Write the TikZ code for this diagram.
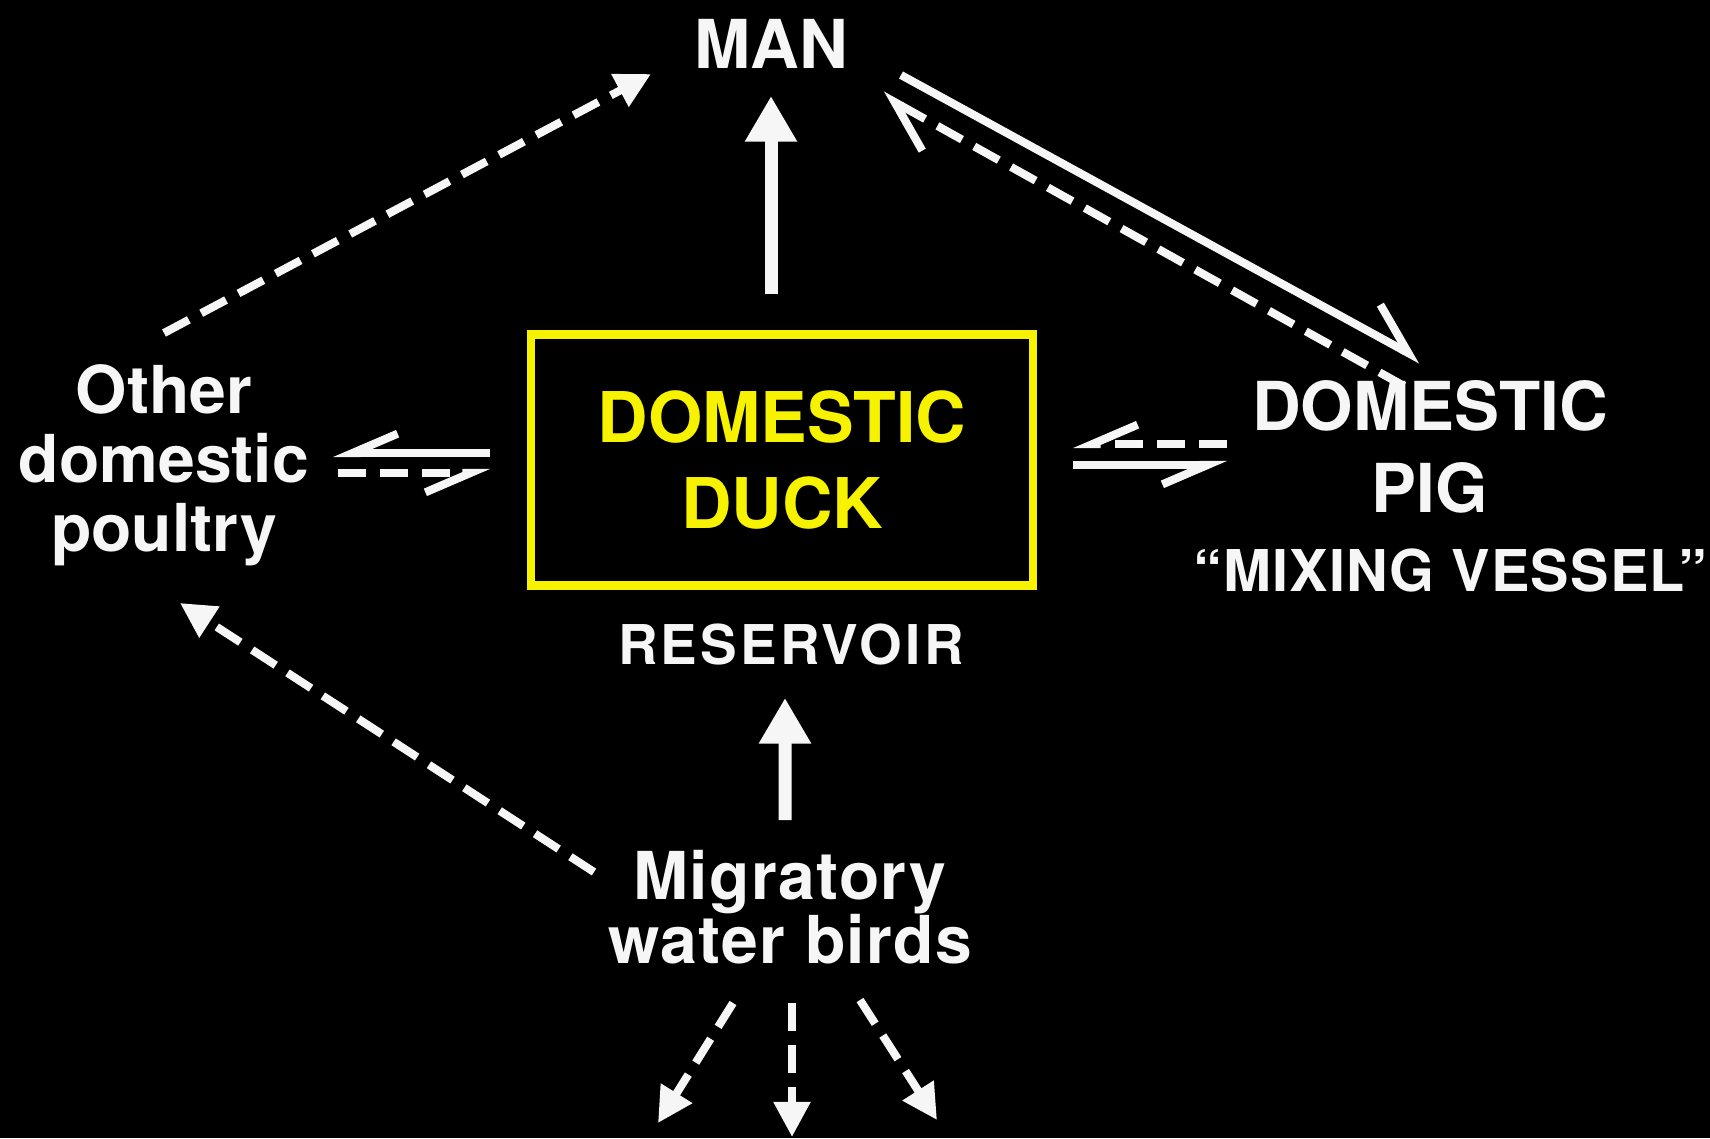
\documentclass[tikz,border=0pt]{standalone}
\usepackage{fontspec}
\setmainfont{TeX Gyre Heros}
\usepackage{xcolor}
\definecolor{cBg}{HTML}{000000}
\definecolor{cText}{HTML}{F6F6F6}
\definecolor{cDuck}{HTML}{F7F200}
\usepackage{tikz}
\usetikzlibrary{positioning,arrows.meta,calc}
\tikzset{
  node-text/.style={text=cText,align=center,inner sep=0pt,
    font=\bfseries\fontsize{18.8}{18.2}\selectfont\addfontfeature{LetterSpace=2}},
  node-caps/.style={text=cText,align=center,inner sep=0pt,
    font=\bfseries\fontsize{19.2}{23.3}\selectfont},
  node-small/.style={text=cText,align=center,inner sep=0pt,
    font=\bfseries\fontsize{15.6}{18}\selectfont\addfontfeature{LetterSpace=6}},
  node-duck/.style={draw=cDuck,line width=2.3pt,text=cDuck,align=center,
    minimum width=50.2mm,minimum height=25.1mm,
    font=\bfseries\fontsize{19.9}{24.5}\selectfont},
  % flechas: gruesa (vertical), discontinua, y medias flechas (harpones)
  arrow-thick/.style={-{Triangle[width=14pt,length=13pt]},line width=3.7pt,draw=cText},
  arrow-dash/.style={-{Triangle[width=10pt,length=10pt]},line width=2.3pt,draw=cText,
    dash pattern=on 8pt off 4pt},
  harp-diag/.style={-{Straight Barb[harpoon,length=13.6pt,width=16.5pt]},line width=2.3pt,draw=cText},
  harp-pair/.style={-{Straight Barb[harpoon,swap,length=12.8pt,width=11pt]},line width=2.3pt,draw=cText},
  line-dash/.style={dash pattern=on 8pt off 4pt},
}
\begin{document}
\begin{tikzpicture}[x=0.1mm,y=-0.1mm]
  \fill[cBg] (0,0) rectangle (1710,1138);
  \useasboundingbox (0,0) rectangle (1710,1138);

  \node[node-duck]                   (duck)    at (782,460)  {DOMESTIC\\DUCK};
  \node[node-caps]                   (man)     at (771,44)   {MAN};
  \node[node-text,font=\bfseries\fontsize{18.8}{19.6}\selectfont]
                                     (poultry) at (164,465)  {Other\\domestic\\poultry};
  \node[node-caps]                   (pig)     at (1430,447) {DOMESTIC\\PIG};
  \node[node-small,font=\bfseries\fontsize{16.4}{18}\selectfont\addfontfeature{LetterSpace=2}]
                                     (mixing)  at (1450,570) {“MIXING VESSEL”};
  \node[node-small,below=3.4mm of duck,xshift=0.9mm] (res) {RESERVOIR};
  \node[node-text]                   (birds)   at (790,907)  {Migratory\\water birds};

  \coordinate (out-l) at (658,1123);
  \coordinate (out-m) at (792,1137);
  \coordinate (out-r) at (937,1120);

  % reservorio -> hombre, aves -> reservorio
  \draw[arrow-thick] ([shift={(-11,-166)}]duck.center) -- ([shift={(0,52)}]man.center);
  \draw[arrow-thick] ([shift={(-5,-87)}]birds.center) -- ([shift={(-6,53)}]res.center);

  \draw[arrow-dash] ([shift={(0,-132)}]poultry.center) -- ([shift={(-120,30)}]man.center);
  \draw[arrow-dash] ([shift={(-196,-35)}]birds.center) -- ([shift={(16,138)}]poultry.center);

  \draw[harp-diag] ([shift={(130,31)}]man.center) -- ([shift={(-9,-87)}]pig.center);
  \draw[harp-diag,line-dash] ([shift={(-26,-61)}]pig.center) -- ([shift={(111,51)}]man.center);

  \draw[harp-pair] ([shift={(-292,-7)}]duck.center) -- ([shift={(169,-12)}]poultry.center);
  \draw[harp-pair,line-dash] ([shift={(174,8)}]poultry.center) -- ([shift={(-292,13)}]duck.center);
  \draw[harp-pair,line-dash] ([shift={(-203,-3)}]pig.center) -- ([shift={(291,-16)}]duck.center);
  \draw[harp-pair] ([shift={(291,5)}]duck.center) -- ([shift={(-203,18)}]pig.center);

  \draw[arrow-dash] ([shift={(-57,96)}]birds.center) -- (out-l);
  \draw[arrow-dash] ([shift={(2,96)}]birds.center) -- (out-m);
  \draw[arrow-dash] ([shift={(70,93)}]birds.center) -- (out-r);
\end{tikzpicture}
\end{document}
